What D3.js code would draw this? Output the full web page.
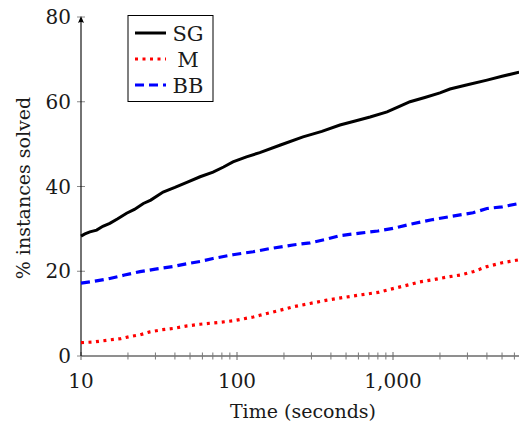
<!DOCTYPE html>
<html><head><meta charset="utf-8">
<script src="https://cdn.jsdelivr.net/npm/d3@7"></script>
<style>body{margin:0;background:#fff}svg{display:block}</style>
</head><body><svg id="c" width="519" height="423"></svg>
<script>
const sgT = [10,10.6,11.4,12.6,13.8,15.3,17.2,19.6,22,25.1,28,33.6,40,47.7,58,70.2,82,94.2,115,140,190,265,350,457,580,713,916,1100,1286,1600,2000,2318,3000,4005,5000,6430];
const sgV = [28.3,28.8,29.3,29.7,30.6,31.3,32.4,33.7,34.6,36.0,36.8,38.7,39.8,41.0,42.3,43.4,44.6,45.8,47.0,48.0,49.8,51.7,53.0,54.5,55.5,56.4,57.6,58.9,60.0,61.0,62.1,63.0,64.0,65.1,66.0,67.0];
const mT = [10,12,15.3,18,20.6,23.9,27.7,33,38.9,48,58,80,94.2,127,140,180,228,294,378,480,614,800,1000,1200,1489,1803,2200,2686,3258,4005,5000,6430];
const mV = [3.15,3.3,3.8,4.1,4.6,5.0,5.7,6.2,6.5,7.1,7.5,8.0,8.3,9.2,9.6,10.6,11.6,12.4,13.2,13.8,14.4,15.0,15.9,16.6,17.5,18.0,18.6,19.1,19.9,21.1,22.0,22.7];
const bbT = [10,12,15.3,19,23.9,30,38.9,48,58,70.2,94.2,127,160,228,294,378,457,614,800,1000,1289,1803,2318,3258,4005,5000,6430];
const bbV = [17.2,17.6,18.3,19.1,19.9,20.5,21.1,21.8,22.3,23.0,23.9,24.6,25.3,26.2,26.7,27.6,28.4,29.0,29.5,30.1,31.1,32.2,32.9,33.8,34.8,35.2,36.0];
const yTicks = [0,20,40,60,80];
const xMajor = [10,100,1000];
const xMinor = [20,30,40,50,60,70,80,90,200,300,400,500,600,700,800,900,2000,3000,4000,5000,6000,7000];
const seriesNames = ["SG","M","BB"];

const svg = d3.select("#c");
const FONT = "DejaVu Serif";
const x = d3.scaleLog().domain([10,7200]).range([81, 81+156*Math.log10(720)]);
const y = d3.scaleLinear().domain([0,80]).range([356,17]);
function T(sel){ return sel.style("font-family",FONT).attr("fill","#1a1a1a"); }

// x axis
const xa = svg.append("g").attr("transform","translate(0,356)");
xa.append("line").attr("x1",81).attr("x2",519).attr("stroke","#6a6a6a").attr("stroke-width",1.6);
xa.selectAll(".mn").data(xMinor).join("line").attr("x1",d=>x(d)).attr("x2",d=>x(d)).attr("y1",-3.5).attr("y2",3.5).attr("stroke","#777").attr("stroke-width",1);
xa.selectAll(".mj").data(xMajor).join("line").attr("x1",d=>x(d)).attr("x2",d=>x(d)).attr("y1",-4).attr("y2",4).attr("stroke","#666").attr("stroke-width",1);
T(xa.selectAll("text").data(xMajor).join("text")).attr("x",d=>x(d)).attr("y",32).attr("text-anchor","middle").attr("font-size",20).text(d=>d3.format(",")(d));

// y axis
const ya = svg.append("g");
ya.selectAll("line.t").data(yTicks).join("line").attr("class","t").attr("x1",77).attr("x2",85).attr("y1",d=>y(d)).attr("y2",d=>y(d)).attr("stroke","#888").attr("stroke-width",1);
ya.append("line").attr("x1",81).attr("x2",81).attr("y1",356).attr("y2",19).attr("stroke","#000").attr("stroke-width",1.1);
ya.append("path").attr("d","M81,16 L78,23 Q81,21 84,23 Z").attr("fill","#000");
T(ya.selectAll("text").data(yTicks).join("text")).attr("x",71).attr("y",d=>y(d)+7).attr("text-anchor","end").attr("font-size",20).text(d=>d);

// labels
T(svg.append("text")).attr("x",303).attr("y",418).attr("text-anchor","middle").attr("font-size",19).text("Time (seconds)");
T(svg.append("text")).attr("transform","translate(30,188) rotate(-90)").attr("text-anchor","middle").attr("font-size",19).text("% instances solved");

// lines
const line = d3.line().x(d=>x(d[0])).y(d=>y(d[1]));
const styles = [
  {name:"SG", T:sgT, V:sgV, color:"#000", dash:null, w:3},
  {name:"M", T:mT, V:mV, color:"#ff0000", dash:"3,4.5", w:3.2},
  {name:"BB", T:bbT, V:bbV, color:"#0000ff", dash:"9,5", w:3.2}
];
const g = svg.append("g");
styles.forEach(s=>{
  g.append("path").datum(d3.zip(s.T,s.V)).attr("d",line).attr("fill","none").attr("stroke",s.color).attr("stroke-width",s.w).attr("stroke-dasharray",s.dash);
});

// legend
const lg = svg.append("g");
lg.append("rect").attr("x",128).attr("y",15.5).attr("width",85).attr("height",86).attr("fill","#fff").attr("stroke","#000").attr("stroke-width",1);
const ly = [33,59,85];
styles.forEach((s,i)=>{
  lg.append("line").attr("x1",135).attr("x2",166).attr("y1",ly[i]).attr("y2",ly[i]).attr("stroke",s.color).attr("stroke-width",s.w).attr("stroke-dasharray",s.dash);
  T(lg.append("text")).attr("x",188).attr("y",ly[i]+7.5).attr("text-anchor","middle").attr("font-size",21).text(seriesNames[i]);
});
</script></body></html>
